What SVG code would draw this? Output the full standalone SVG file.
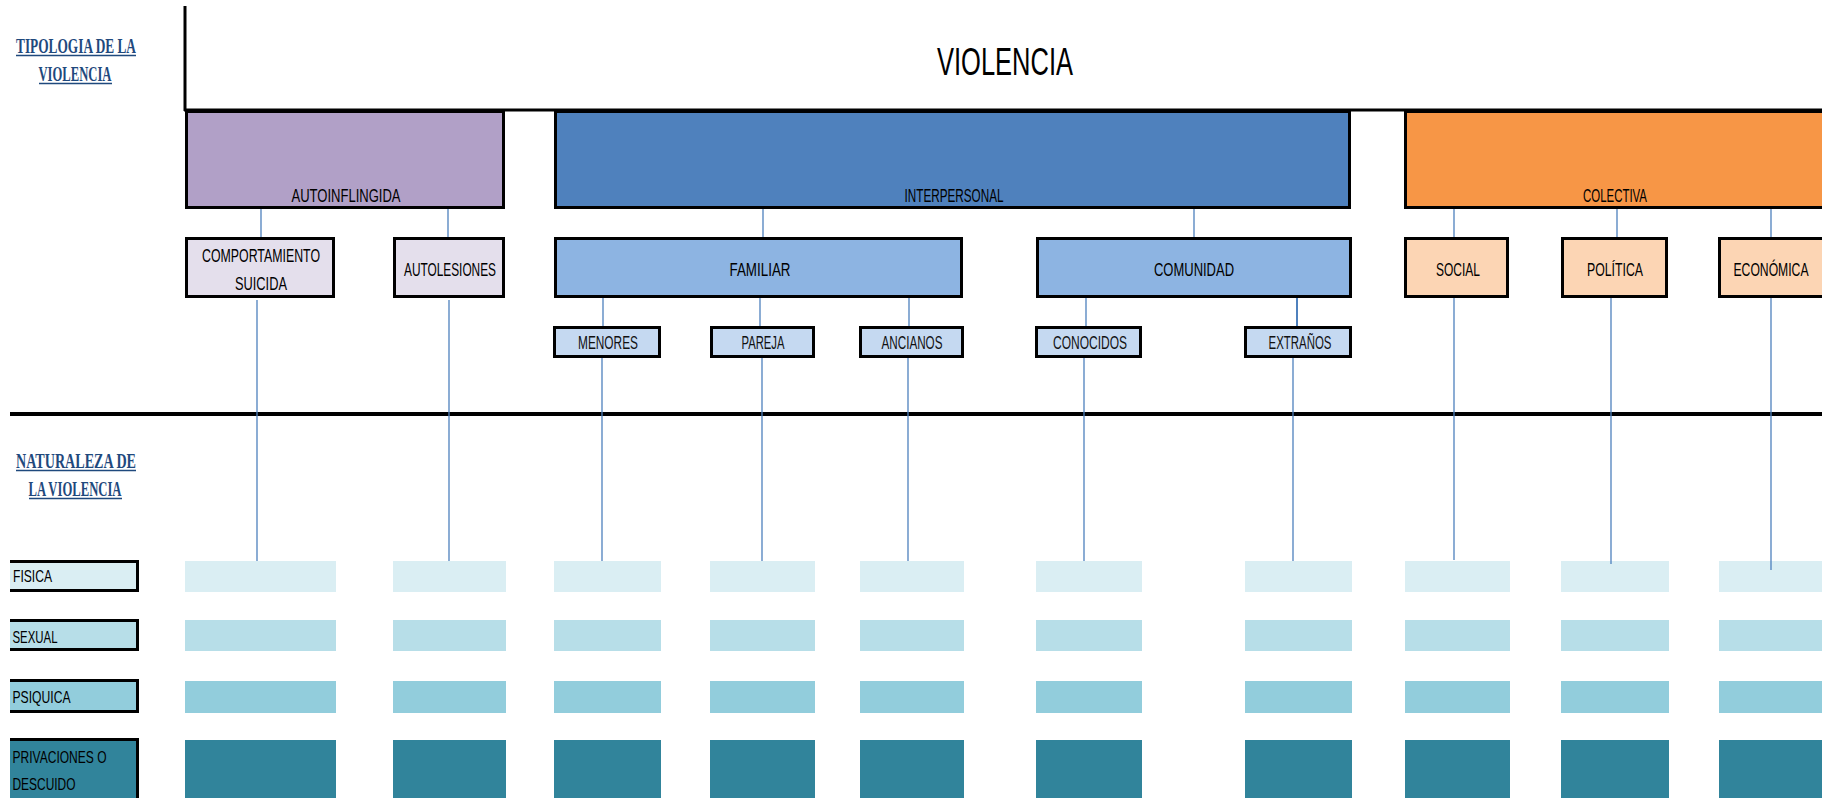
<svg xmlns="http://www.w3.org/2000/svg" width="1822" height="798" viewBox="0 0 1822 798">
<style>
.head{font-family:"Liberation Serif",serif;font-weight:bold;font-size:22px;fill:#1F497D;text-anchor:middle}
.ul{stroke:#1F497D;stroke-width:1.5}
.lbl{font-family:"Liberation Sans",Arial,sans-serif;font-size:19px;fill:#000;text-anchor:middle}
.l3{font-family:"Liberation Sans",Arial,sans-serif;font-size:18px;fill:#111;text-anchor:middle}
.row{font-family:"Liberation Sans",Arial,sans-serif;font-size:17px;fill:#000}
.box{stroke:#000;stroke-width:3}
.c{stroke:#4F81BD;stroke-width:1.3;fill:none}
.r1{fill:#DAEEF3}.r2{fill:#B7DEE8}.r3{fill:#92CDDC}.r4{fill:#31849B}
</style>

<!-- frame -->
<g id="frame">
<line x1="185" y1="6" x2="185" y2="111" stroke="#000" stroke-width="3"/>
<line x1="184" y1="110" x2="1822" y2="110" stroke="#000" stroke-width="3"/>
<line x1="10" y1="414" x2="1822" y2="414" stroke="#000" stroke-width="4"/>
</g>

<g id="tipologia">
<text class="head" x="76" y="53" textLength="120" lengthAdjust="spacingAndGlyphs">TIPOLOGIA DE LA</text>
<line class="ul" x1="16" y1="55.5" x2="136" y2="55.5"/>
<text class="head" x="75" y="81" textLength="73" lengthAdjust="spacingAndGlyphs">VIOLENCIA</text>
<line class="ul" x1="39" y1="83.5" x2="112" y2="83.5"/>
</g>

<g id="naturaleza">
<text class="head" x="76" y="468" textLength="120" lengthAdjust="spacingAndGlyphs">NATURALEZA DE</text>
<line class="ul" x1="16" y1="470.5" x2="136" y2="470.5"/>
<text class="head" x="75" y="496" textLength="93" lengthAdjust="spacingAndGlyphs">LA VIOLENCIA</text>
<line class="ul" x1="29" y1="498.5" x2="122" y2="498.5"/>
</g>

<g id="violencia">
<text x="1005" y="75" font-family="Liberation Sans, Arial, sans-serif" font-size="39" fill="#000" text-anchor="middle" textLength="136" lengthAdjust="spacingAndGlyphs">VIOLENCIA</text>
</g>

<!-- level 1 -->
<g id="autoinflingida">
<rect class="box" x="186.5" y="111.5" width="317" height="96" fill="#B1A0C7"/>
<text class="lbl" x="346" y="202" textLength="109" lengthAdjust="spacingAndGlyphs">AUTOINFLINGIDA</text>
</g>
<g id="interpersonal">
<rect class="box" x="555.5" y="111.5" width="794" height="96" fill="#4F81BD"/>
<text class="lbl" x="954" y="202" textLength="99" lengthAdjust="spacingAndGlyphs">INTERPERSONAL</text>
</g>
<g id="colectiva">
<rect class="box" x="1405.5" y="111.5" width="420" height="96" fill="#F79646"/>
<text class="lbl" x="1615" y="202" textLength="64" lengthAdjust="spacingAndGlyphs">COLECTIVA</text>
</g>

<!-- level 2 -->
<g id="comportamiento">
<rect class="box" x="186.5" y="238.5" width="147" height="58" fill="#E4DFEC"/>
<text class="lbl" x="261" y="262" textLength="118" lengthAdjust="spacingAndGlyphs">COMPORTAMIENTO</text>
<text class="lbl" x="261" y="290" textLength="52" lengthAdjust="spacingAndGlyphs">SUICIDA</text>
</g>
<g id="autolesiones">
<rect class="box" x="394.5" y="238.5" width="109" height="58" fill="#E4DFEC"/>
<text class="lbl" x="450" y="276" textLength="92" lengthAdjust="spacingAndGlyphs">AUTOLESIONES</text>
</g>
<g id="familiar">
<rect class="box" x="555.5" y="238.5" width="406" height="58" fill="#8DB4E2"/>
<text class="lbl" x="760" y="276" textLength="61" lengthAdjust="spacingAndGlyphs">FAMILIAR</text>
</g>
<g id="comunidad">
<rect class="box" x="1037.5" y="238.5" width="313" height="58" fill="#8DB4E2"/>
<text class="lbl" x="1194" y="276" textLength="80" lengthAdjust="spacingAndGlyphs">COMUNIDAD</text>
</g>
<g id="social">
<rect class="box" x="1405.5" y="238.5" width="102" height="58" fill="#FCD5B4"/>
<text class="lbl" x="1458" y="276" textLength="44" lengthAdjust="spacingAndGlyphs">SOCIAL</text>
</g>
<g id="politica">
<rect class="box" x="1562.5" y="238.5" width="104" height="58" fill="#FCD5B4"/>
<text class="lbl" x="1615" y="276" textLength="56" lengthAdjust="spacingAndGlyphs">POLÍTICA</text>
</g>
<g id="economica">
<rect class="box" x="1719.5" y="238.5" width="110" height="58" fill="#FCD5B4"/>
<text class="lbl" x="1771" y="276" textLength="75" lengthAdjust="spacingAndGlyphs">ECONÓMICA</text>
</g>

<!-- level 3 -->
<g id="menores">
<rect class="box" x="554.5" y="327.5" width="105" height="29" fill="#C5D9F1"/>
<text class="l3" x="608" y="349" textLength="60" lengthAdjust="spacingAndGlyphs">MENORES</text>
</g>
<g id="pareja">
<rect class="box" x="711.5" y="327.5" width="102" height="29" fill="#C5D9F1"/>
<text class="l3" x="763" y="349" textLength="43" lengthAdjust="spacingAndGlyphs">PAREJA</text>
</g>
<g id="ancianos">
<rect class="box" x="860.5" y="327.5" width="102" height="29" fill="#C5D9F1"/>
<text class="l3" x="912" y="349" textLength="61" lengthAdjust="spacingAndGlyphs">ANCIANOS</text>
</g>
<g id="conocidos">
<rect class="box" x="1036.5" y="327.5" width="104" height="29" fill="#C5D9F1"/>
<text class="l3" x="1090" y="349" textLength="74" lengthAdjust="spacingAndGlyphs">CONOCIDOS</text>
</g>
<g id="extranos">
<rect class="box" x="1245.5" y="327.5" width="105" height="29" fill="#C5D9F1"/>
<text class="l3" x="1300" y="349" textLength="63" lengthAdjust="spacingAndGlyphs">EXTRAÑOS</text>
</g>

<!-- row labels -->
<g id="fisica">
<rect x="10" y="560" width="129" height="32" class="r1"/>
<path d="M10 561.5 H137.5 V590.5 H10" fill="none" stroke="#000" stroke-width="3"/>
<text class="row" x="13" y="582" textLength="39" lengthAdjust="spacingAndGlyphs">FISICA</text>
</g>
<g id="sexual">
<rect x="10" y="619" width="129" height="32" class="r2"/>
<path d="M10 620.5 H137.5 V649.5 H10" fill="none" stroke="#000" stroke-width="3"/>
<text class="row" x="12.5" y="643" textLength="45" lengthAdjust="spacingAndGlyphs">SEXUAL</text>
</g>
<g id="psiquica">
<rect x="10" y="679" width="129" height="34" class="r3"/>
<path d="M10 680.5 H137.5 V711.5 H10" fill="none" stroke="#000" stroke-width="3"/>
<text class="row" x="12.5" y="703" textLength="58" lengthAdjust="spacingAndGlyphs">PSIQUICA</text>
</g>
<g id="privaciones">
<rect x="10" y="738" width="129" height="62" class="r4"/>
<path d="M10 739.5 H137.5 V800" fill="none" stroke="#000" stroke-width="3"/>
<text class="row" x="12.5" y="763" textLength="94" lengthAdjust="spacingAndGlyphs">PRIVACIONES O</text>
<text class="row" x="12.5" y="790" textLength="63" lengthAdjust="spacingAndGlyphs">DESCUIDO</text>
</g>

<!-- matrix cells -->
<g id="cells">
<g class="r1">
<rect x="185" y="561" width="151" height="31"/><rect x="393" y="561" width="113" height="31"/>
<rect x="554" y="561" width="107" height="31"/><rect x="710" y="561" width="105" height="31"/>
<rect x="860" y="561" width="104" height="31"/><rect x="1036" y="561" width="106" height="31"/>
<rect x="1245" y="561" width="107" height="31"/><rect x="1405" y="561" width="105" height="31"/>
<rect x="1561" y="561" width="108" height="31"/><rect x="1719" y="561" width="103" height="31"/>
</g>
<g class="r2">
<rect x="185" y="620" width="151" height="31"/><rect x="393" y="620" width="113" height="31"/>
<rect x="554" y="620" width="107" height="31"/><rect x="710" y="620" width="105" height="31"/>
<rect x="860" y="620" width="104" height="31"/><rect x="1036" y="620" width="106" height="31"/>
<rect x="1245" y="620" width="107" height="31"/><rect x="1405" y="620" width="105" height="31"/>
<rect x="1561" y="620" width="108" height="31"/><rect x="1719" y="620" width="103" height="31"/>
</g>
<g class="r3">
<rect x="185" y="681" width="151" height="32"/><rect x="393" y="681" width="113" height="32"/>
<rect x="554" y="681" width="107" height="32"/><rect x="710" y="681" width="105" height="32"/>
<rect x="860" y="681" width="104" height="32"/><rect x="1036" y="681" width="106" height="32"/>
<rect x="1245" y="681" width="107" height="32"/><rect x="1405" y="681" width="105" height="32"/>
<rect x="1561" y="681" width="108" height="32"/><rect x="1719" y="681" width="103" height="32"/>
</g>
<g class="r4">
<rect x="185" y="740" width="151" height="58"/><rect x="393" y="740" width="113" height="58"/>
<rect x="554" y="740" width="107" height="58"/><rect x="710" y="740" width="105" height="58"/>
<rect x="860" y="740" width="104" height="58"/><rect x="1036" y="740" width="106" height="58"/>
<rect x="1245" y="740" width="107" height="58"/><rect x="1405" y="740" width="105" height="58"/>
<rect x="1561" y="740" width="108" height="58"/><rect x="1719" y="740" width="103" height="58"/>
</g>
</g>

<!-- connectors -->
<g id="connectors" class="c">
<path class="c" d="M261 209 V237 M448 209 V237 M763 209 V237 M1194 209 V237 M1454 209 V237 M1617 209 V237 M1771 209 V237"/>
<path class="c" d="M603 298 V326 M760 298 V326 M909 298 V326 M1086 298 V326"/>
<path d="M1297 298 V326" stroke="#4F81BD" stroke-width="2"/>
<path class="c" d="M257 300 V561 M449 300 V561 M602 358 V561 M762 358 V561 M908 358 V561 M1084 358 V561 M1293 358 V561 M1454 298 V560 M1611 298 V564 M1771 298 V570"/>
</g>
</svg>
